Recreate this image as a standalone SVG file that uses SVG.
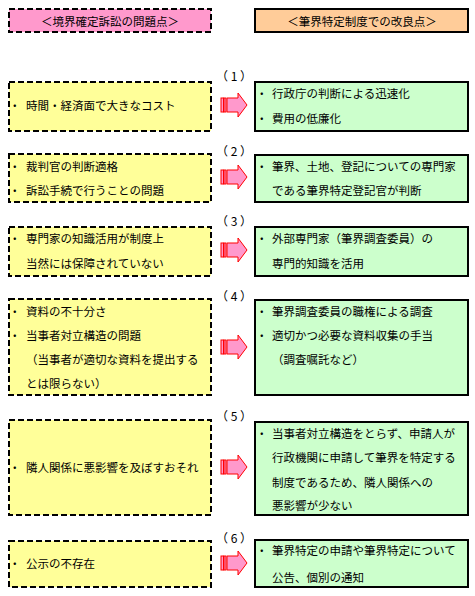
<svg xmlns="http://www.w3.org/2000/svg" xmlns:xlink="http://www.w3.org/1999/xlink" width="475" height="596" viewBox="0 0 475 596">
<style>
text{font-family:"Noto Sans CJK JP","Noto Sans",sans-serif;font-size:11.5px;fill:#000;dominant-baseline:central}
.prob{fill:#ffff99;stroke:#000;stroke-width:2;stroke-dasharray:6 3}
.impr{fill:#ccffcc;stroke:#000;stroke-width:2}
.hl{fill:#ff99cc;stroke:#000;stroke-width:2;stroke-dasharray:6 3}
.hr{fill:#ffcc99;stroke:#000;stroke-width:2}
.num{text-anchor:middle;font-size:12px}
.c{text-anchor:middle}
</style>
<defs>
<g id="arr">
<rect x="221" y="-7" width="2.5" height="14" fill="#ff99cc" stroke="#ff0000" stroke-width="1"/>
<rect x="224" y="-7" width="2" height="14" fill="#ff99cc" stroke="#ff0000" stroke-width="1"/>
<path d="M227,-7 H238 V-12 L247,0 L238,12 V7 H227 Z" fill="#ff99cc" stroke="#ff0000" stroke-width="1"/>
</g>
</defs>
<rect width="475" height="596" fill="#fff"/>
<g id="header-left"><rect class="hl" x="9" y="9" width="202" height="23"/><text class="c" x="110" y="20.5">＜境界確定訴訟の問題点＞</text></g>
<g id="header-right"><rect class="hr" x="255" y="9" width="213" height="23"/><text class="c" x="362" y="20.5">＜筆界特定制度での改良点＞</text></g>

<g id="connectors">
<use xlink:href="#arr" transform="translate(0,105)"/>
<use xlink:href="#arr" transform="translate(0,177)"/>
<use xlink:href="#arr" transform="translate(0,250)"/>
<use xlink:href="#arr" transform="translate(0,347)"/>
<use xlink:href="#arr" transform="translate(0,467)"/>
<use xlink:href="#arr" transform="translate(0,563)"/>
</g>
<g id="labels">
<text class="num" x="234" y="75">（ 1 ）</text>
<text class="num" x="234" y="150">（ 2 ）</text>
<text class="num" x="234" y="220">（ 3 ）</text>
<text class="num" x="234" y="295">（ 4 ）</text>
<text class="num" x="234" y="415">（ 5 ）</text>
<text class="num" x="234" y="537">（ 6 ）</text>
</g>

<g id="p1"><rect class="prob" x="9" y="82" width="202" height="49"/><text x="9" y="105">・<tspan x="26">時間・経済面で大きなコスト</tspan></text></g>
<g id="i1"><rect class="impr" x="255" y="82" width="213" height="49"/><text x="256" y="93">・<tspan x="272">行政庁の判断による迅速化</tspan></text><text x="256" y="118">・<tspan x="272">費用の低廉化</tspan></text></g>

<g id="p2"><rect class="prob" x="9" y="154" width="202" height="48"/><text x="9" y="166">・<tspan x="26">裁判官の判断適格</tspan></text><text x="9" y="190">・<tspan x="26">訴訟手続で行うことの問題</tspan></text></g>
<g id="i2"><rect class="impr" x="255" y="155" width="213" height="47"/><text x="256" y="166">・<tspan x="272">筆界、土地、登記についての専門家</tspan></text><text x="272" y="190">である筆界特定登記官が判断</text></g>

<g id="p3"><rect class="prob" x="9" y="227" width="202" height="49"/><text x="9" y="238">・<tspan x="26">専門家の知識活用が制度上</tspan></text><text x="26" y="263">当然には保障されていない</text></g>
<g id="i3"><rect class="impr" x="255" y="227" width="213" height="49"/><text x="256" y="238">・<tspan x="272">外部専門家（筆界調査委員）の</tspan></text><text x="272" y="263">専門的知識を活用</text></g>

<g id="p4"><rect class="prob" x="9" y="299" width="202" height="96"/><text x="9" y="311">・<tspan x="26">資料の不十分さ</tspan></text><text x="9" y="335">・<tspan x="26">当事者対立構造の問題</tspan></text><text x="26" y="359">（当事者が適切な資料を提出する</text><text x="26" y="383">とは限らない）</text></g>
<g id="i4"><rect class="impr" x="255" y="300" width="213" height="95"/><text x="256" y="311">・<tspan x="272">筆界調査委員の職権による調査</tspan></text><text x="256" y="335">・<tspan x="272">適切かつ必要な資料収集の手当</tspan></text><text x="272" y="359">（調査嘱託など）</text></g>

<g id="p5"><rect class="prob" x="9" y="420" width="202" height="95"/><text x="9" y="467">・<tspan x="26">隣人関係に悪影響を及ぼすおそれ</tspan></text></g>
<g id="i5"><rect class="impr" x="255" y="422" width="213" height="93"/><text x="256" y="433">・<tspan x="272">当事者対立構造をとらず、申請人が</tspan></text><text x="272" y="457">行政機関に申請して筆界を特定する</text><text x="272" y="482">制度であるため、隣人関係への</text><text x="272" y="505">悪影響が少ない</text></g>

<g id="p6"><rect class="prob" x="9" y="541" width="202" height="46"/><text x="9" y="563">・<tspan x="26">公示の不存在</tspan></text></g>
<g id="i6"><rect class="impr" x="255" y="540" width="213" height="47"/><text x="256" y="550">・<tspan x="272">筆界特定の申請や筆界特定について</tspan></text><text x="272" y="577">公告、個別の通知</text></g>
</svg>
